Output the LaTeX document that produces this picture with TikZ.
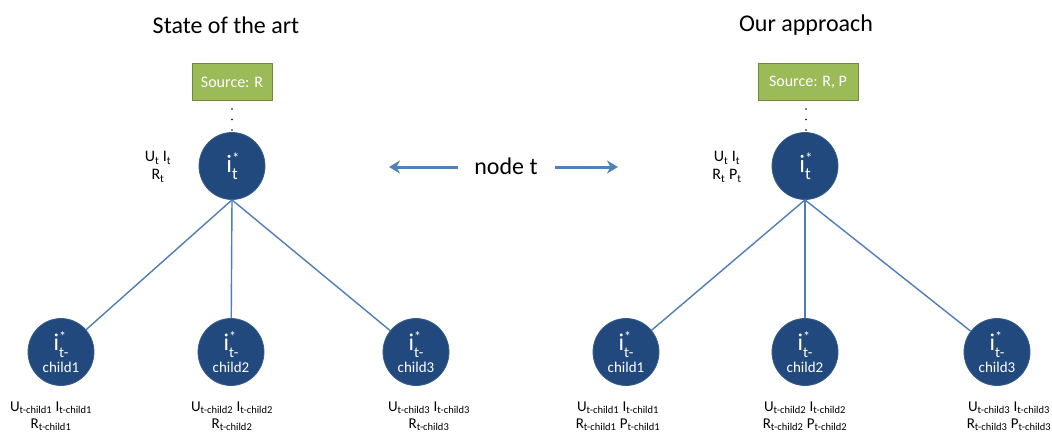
\documentclass[tikz,border=0pt]{standalone}
\usepackage{fontspec}
\setmainfont{Carlito}
\usetikzlibrary{arrows.meta,shapes.geometric}
\definecolor{nodeblue}{RGB}{33,73,125}
\definecolor{nodeedge}{RGB}{56,93,138}
\definecolor{edgeblue}{RGB}{79,125,184}
\definecolor{arrblue}{RGB}{79,129,189}
\definecolor{srcgreen}{RGB}{155,187,89}
\definecolor{srcedge}{RGB}{113,137,63}
\newcommand{\rootlbl}{{\fontsize{25}{25}\selectfont i}\rlap{\raisebox{9pt}{\fontsize{15}{15}\selectfont *}}\raisebox{-7pt}{\fontsize{17}{17}\selectfont t}}
\newcommand{\childlbl}[1]{{\fontsize{24}{24}\selectfont i}\rlap{\raisebox{9pt}{\fontsize{14}{14}\selectfont *}}\raisebox{-7pt}{\fontsize{15}{15}\selectfont t-}\\[4pt]{\fontsize{15}{16}\selectfont #1}}
\tikzset{
  title/.style={font=\fontsize{24}{28}\selectfont, text=black},
  srcbox/.style={draw=srcedge, line width=0.8pt, fill=srcgreen, minimum height=37pt, text=white, font=\fontsize{16}{18}\selectfont, inner sep=2pt},
  tnode/.style={ellipse, draw=nodeedge, line width=0.8pt, fill=nodeblue, minimum width=66pt, minimum height=67pt, inner sep=0pt, text=white, align=center},
  lbl/.style={align=center, font=\fontsize{16}{18}\selectfont, inner sep=0pt},
  clbl/.style={align=center, font=\fontsize{15}{17}\selectfont, inner sep=0pt},
  tree/.style={draw=edgeblue, line width=1.4pt},
  dots/.style={line width=1.8pt, line cap=round, dash pattern=on 0pt off 10.5pt},
  arr/.style={draw=arrblue, line width=3pt, -{Stealth[length=11pt,width=13pt,inset=3.5pt]}}
}
\begin{document}
\begin{tikzpicture}[x=1pt,y=1pt]
\useasboundingbox (0,0) rectangle (1052,-433);
% ---------- left tree ----------
\node[title] (t1) at (226,-25) {State of the art};
\node[srcbox, minimum width=80pt] (s1) at (232,-82) {Source: R};
\node[tnode] (r1) at (232,-166) {\rootlbl};
\node[lbl] (rl1) at (158,-167) {U\textsubscript{t} I\textsubscript{t}\\R\textsubscript{t}};
\node[tnode] (a1) at (61,-352) {\childlbl{child1}};
\node[tnode] (a2) at (231,-352) {\childlbl{child2}};
\node[tnode] (a3) at (416,-352) {\childlbl{child3}};
\node[clbl] (al1) at (51,-416) {U\textsubscript{t-child1} I\textsubscript{t-child1}\\R\textsubscript{t-child1}};
\node[clbl] (al2) at (232,-416) {U\textsubscript{t-child2} I\textsubscript{t-child2}\\R\textsubscript{t-child2}};
\node[clbl] (al3) at (429,-416) {U\textsubscript{t-child3} I\textsubscript{t-child3}\\R\textsubscript{t-child3}};
\coordinate (d1a) at (232,-109);
\coordinate (d1b) at (232,-131);
\draw[dots] (d1a) -- (d1b);
\draw[tree] (r1.south) -- (a1);
\draw[tree] (r1.south) -- (a2);
\draw[tree] (r1.south) -- (a3);
% ---------- middle ----------
\node[title] (nt) at (506,-166) {node t};
\coordinate (la1) at (458,-167);
\coordinate (la2) at (389,-167);
\coordinate (ra1) at (555,-167);
\coordinate (ra2) at (618,-167);
\draw[arr] (la1) -- (la2);
\draw[arr] (ra1) -- (ra2);
% ---------- right tree ----------
\node[title] (t2) at (806,-25) {Our approach};
\node[srcbox, minimum width=100pt] (s2) at (808,-82) {Source: R, P};
\node[tnode] (r2) at (805,-166) {\rootlbl};
\node[lbl] (rl2) at (727,-167) {U\textsubscript{t} I\textsubscript{t}\\R\textsubscript{t} P\textsubscript{t}};
\node[tnode] (b1) at (626,-352) {\childlbl{child1}};
\node[tnode] (b2) at (805,-352) {\childlbl{child2}};
\node[tnode] (b3) at (997,-352) {\childlbl{child3}};
\node[clbl] (bl1) at (618,-416) {U\textsubscript{t-child1} I\textsubscript{t-child1}\\R\textsubscript{t-child1} P\textsubscript{t-child1}};
\node[clbl] (bl2) at (805,-416) {U\textsubscript{t-child2} I\textsubscript{t-child2}\\R\textsubscript{t-child2} P\textsubscript{t-child2}};
\node[clbl] (bl3) at (1009,-416) {U\textsubscript{t-child3} I\textsubscript{t-child3}\\R\textsubscript{t-child3} P\textsubscript{t-child3}};
\coordinate (d2a) at (806,-109);
\coordinate (d2b) at (806,-131);
\draw[dots] (d2a) -- (d2b);
\draw[tree] (r2.south) -- (b1);
\draw[tree] (r2.south) -- (b2);
\draw[tree] (r2.south) -- (b3);
\end{tikzpicture}
\end{document}
